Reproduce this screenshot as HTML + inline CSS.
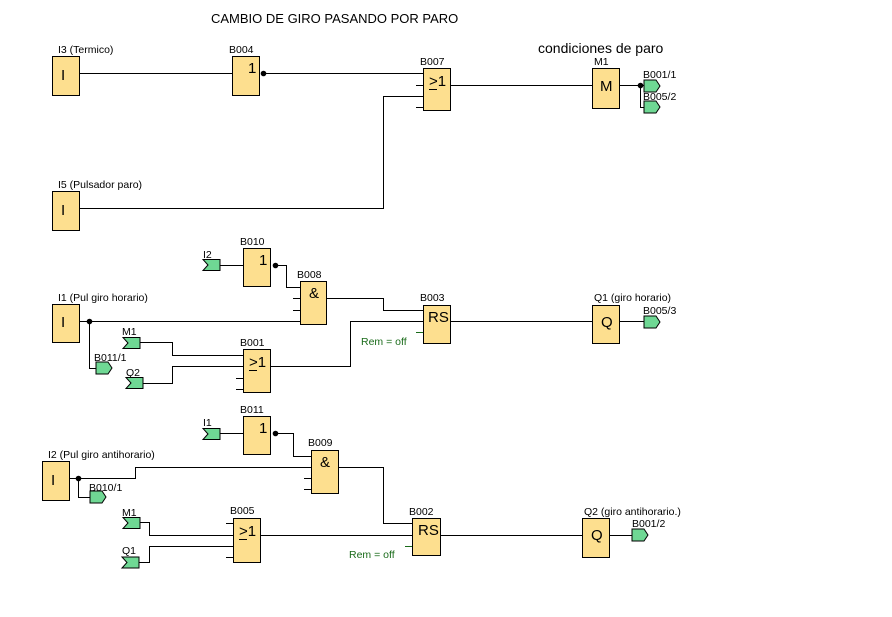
<!DOCTYPE html>
<html><head><meta charset="utf-8"><style>
html,body{margin:0;padding:0;background:#fff;}
svg{display:block;}
text{font-family:"Liberation Sans",sans-serif;font-size:10.5px;fill:#000;}
.b{fill:#FDDF8F;stroke:#000;stroke-width:1;}
.g{fill:#6FD894;stroke:#000;stroke-width:1;}
.w{fill:none;stroke:#000;stroke-width:1;}
.bt{font-size:15px;}
.rem{fill:#1a6b1a;font-size:10.5px;}
</style></head><body>
<svg width="892" height="617" viewBox="0 0 892 617" xmlns="http://www.w3.org/2000/svg">
<defs>
<g id="gin"><polygon class="g" points="0,0 17,0 17,11 0,11 5,5.5"/></g>
<g id="gout"><polygon class="g" points="0,0 12,0 16,6 12,12 0,12"/></g>
</defs>
<text x="211" y="23" style="font-size:13px">CAMBIO DE GIRO PASANDO POR PARO</text>
<text x="538" y="53" style="font-size:14px">condiciones de paro</text>

<!-- top section -->
<text x="58" y="53">I3  (Termico)</text>
<rect class="b" x="52.5" y="56.5" width="27" height="39"/>
<text x="61" y="80" class="bt">I</text>
<path class="w" d="M80 73.5H232"/>
<text x="229" y="53">B004</text>
<rect class="b" x="232.5" y="56.5" width="27" height="39"/>
<text x="248" y="73" class="bt">1</text>
<circle cx="263.5" cy="73.5" r="2.8"/>
<path class="w" d="M263 73.5H423"/>
<text x="420" y="65">B007</text>
<path class="w" d="M416 85.5H423M416 96.5H423M416 107.5H423"/>
<rect class="b" x="423.5" y="68.5" width="27" height="42"/>
<text x="429" y="86" class="bt">&gt;1</text><path class="w" d="M429 89.5H437"/>
<path class="w" d="M80 208.5H383.5V96.5H423"/>
<path class="w" d="M450 85.5H592"/>
<text x="594" y="65">M1</text>
<rect class="b" x="592.5" y="68.5" width="27" height="40"/>
<text x="600" y="91" class="bt">M</text>
<path class="w" d="M620 85.5H644M640.5 85V107.5H644"/>
<circle cx="640.5" cy="85.5" r="2.8"/>
<use href="#gout" x="644" y="80"/>
<use href="#gout" x="644" y="101"/>
<text x="643" y="78">B001/1</text>
<text x="643" y="100">B005/2</text>
<text x="58" y="188">I5  (Pulsador paro)</text>
<rect class="b" x="52.5" y="191.5" width="27" height="39"/>
<text x="61" y="215" class="bt">I</text>

<!-- middle section -->
<text x="203" y="258">I2</text>
<use href="#gin" x="203" y="259.5"/>
<path class="w" d="M220 265.5H243"/>
<text x="240" y="245">B010</text>
<rect class="b" x="243.5" y="248.5" width="27" height="38"/>
<text x="259" y="265" class="bt">1</text>
<circle cx="275.5" cy="265.5" r="2.8"/>
<path class="w" d="M275 265.5H286.5V287.5H300"/>
<text x="297" y="278">B008</text>
<path class="w" d="M293 298.5H300M293 310.5H300"/>
<rect class="b" x="300.5" y="281.5" width="26" height="43"/>
<text x="309" y="298" class="bt">&amp;</text>
<path class="w" d="M327 298.5H383.5V310.5H423"/>
<text x="420" y="301">B003</text>
<rect class="b" x="423.5" y="305.5" width="27" height="38"/>
<text x="428" y="322" class="bt">RS</text>
<path class="w" d="M416 332.5H423" style="stroke:#1a6b1a"/>
<text x="361" y="345" class="rem">Rem = off</text>
<text x="58" y="301">I1  (Pul giro horario)</text>
<rect class="b" x="52.5" y="304.5" width="27" height="38"/>
<text x="61" y="327" class="bt">I</text>
<path class="w" d="M80 321.5H300M89.5 321V368.5H96"/>
<circle cx="89.5" cy="321.5" r="2.8"/>
<use href="#gout" x="96" y="362"/>
<text x="94" y="361">B011/1</text>
<text x="122" y="335">M1</text>
<use href="#gin" x="123" y="337.5"/>
<path class="w" d="M140 342.5H172.5V355.5H243"/>
<text x="126" y="376">Q2</text>
<use href="#gin" x="126" y="377.5"/>
<path class="w" d="M143 383.5H172.5V366.5H243"/>
<text x="240" y="346">B001</text>
<path class="w" d="M236 378.5H243M236 389.5H243"/>
<rect class="b" x="243.5" y="349.5" width="27" height="43"/>
<text x="249" y="367" class="bt">&gt;1</text><path class="w" d="M249 370.5H257"/>
<path class="w" d="M271 366.5H350.5V321.5H423"/>
<path class="w" d="M450 321.5H592"/>
<text x="594" y="301">Q1  (giro horario)</text>
<rect class="b" x="592.5" y="305.5" width="27" height="38"/>
<text x="601" y="327" class="bt">Q</text>
<path class="w" d="M620 321.5H644"/>
<use href="#gout" x="644" y="316"/>
<text x="643" y="314">B005/3</text>

<!-- bottom section -->
<text x="203" y="426">I1</text>
<use href="#gin" x="203" y="428.5"/>
<path class="w" d="M220 433.5H243"/>
<text x="240" y="413">B011</text>
<rect class="b" x="243.5" y="416.5" width="27" height="38"/>
<text x="259" y="433" class="bt">1</text>
<circle cx="275.5" cy="433.5" r="2.8"/>
<path class="w" d="M275 433.5H293.5V456.5H311"/>
<text x="308" y="446">B009</text>
<path class="w" d="M304 478.5H311M304 489.5H311"/>
<rect class="b" x="311.5" y="450.5" width="27" height="43"/>
<text x="320" y="467" class="bt">&amp;</text>
<text x="48" y="458">I2  (Pul giro antihorario)</text>
<rect class="b" x="42.5" y="461.5" width="27" height="39"/>
<text x="51" y="485" class="bt">I</text>
<path class="w" d="M70 478.5H135.5V467.5H311M78.5 478V497.5H90"/>
<circle cx="78.5" cy="478.5" r="2.8"/>
<use href="#gout" x="90" y="491"/>
<text x="89" y="491">B010/1</text>
<path class="w" d="M339 467.5H383.5V523.5H412"/>
<text x="409" y="515">B002</text>
<rect class="b" x="412.5" y="518.5" width="28" height="37"/>
<text x="418" y="535" class="bt">RS</text>
<path class="w" d="M405 546.5H412" style="stroke:#1a6b1a"/>
<text x="349" y="558" class="rem">Rem = off</text>
<text x="122" y="516">M1</text>
<use href="#gin" x="123" y="517.5"/>
<path class="w" d="M140 522.5H149.5V535.5H233"/>
<text x="122" y="554">Q1</text>
<use href="#gin" x="122" y="557"/>
<path class="w" d="M139 562.5H149.5V546.5H233"/>
<text x="230" y="514">B005</text>
<path class="w" d="M226 523.5H233M226 557.5H233"/>
<rect class="b" x="233.5" y="518.5" width="27" height="44"/>
<text x="239" y="536" class="bt">&gt;1</text><path class="w" d="M239 539.5H247"/>
<path class="w" d="M261 535.5H412"/>
<path class="w" d="M441 535.5H582"/>
<text x="584" y="515">Q2  (giro antihorario.)</text>
<rect class="b" x="582.5" y="518.5" width="27" height="39"/>
<text x="591" y="540" class="bt">Q</text>
<path class="w" d="M610 535.5H632"/>
<use href="#gout" x="632" y="529"/>
<text x="632" y="527">B001/2</text>
</svg>
</body></html>
